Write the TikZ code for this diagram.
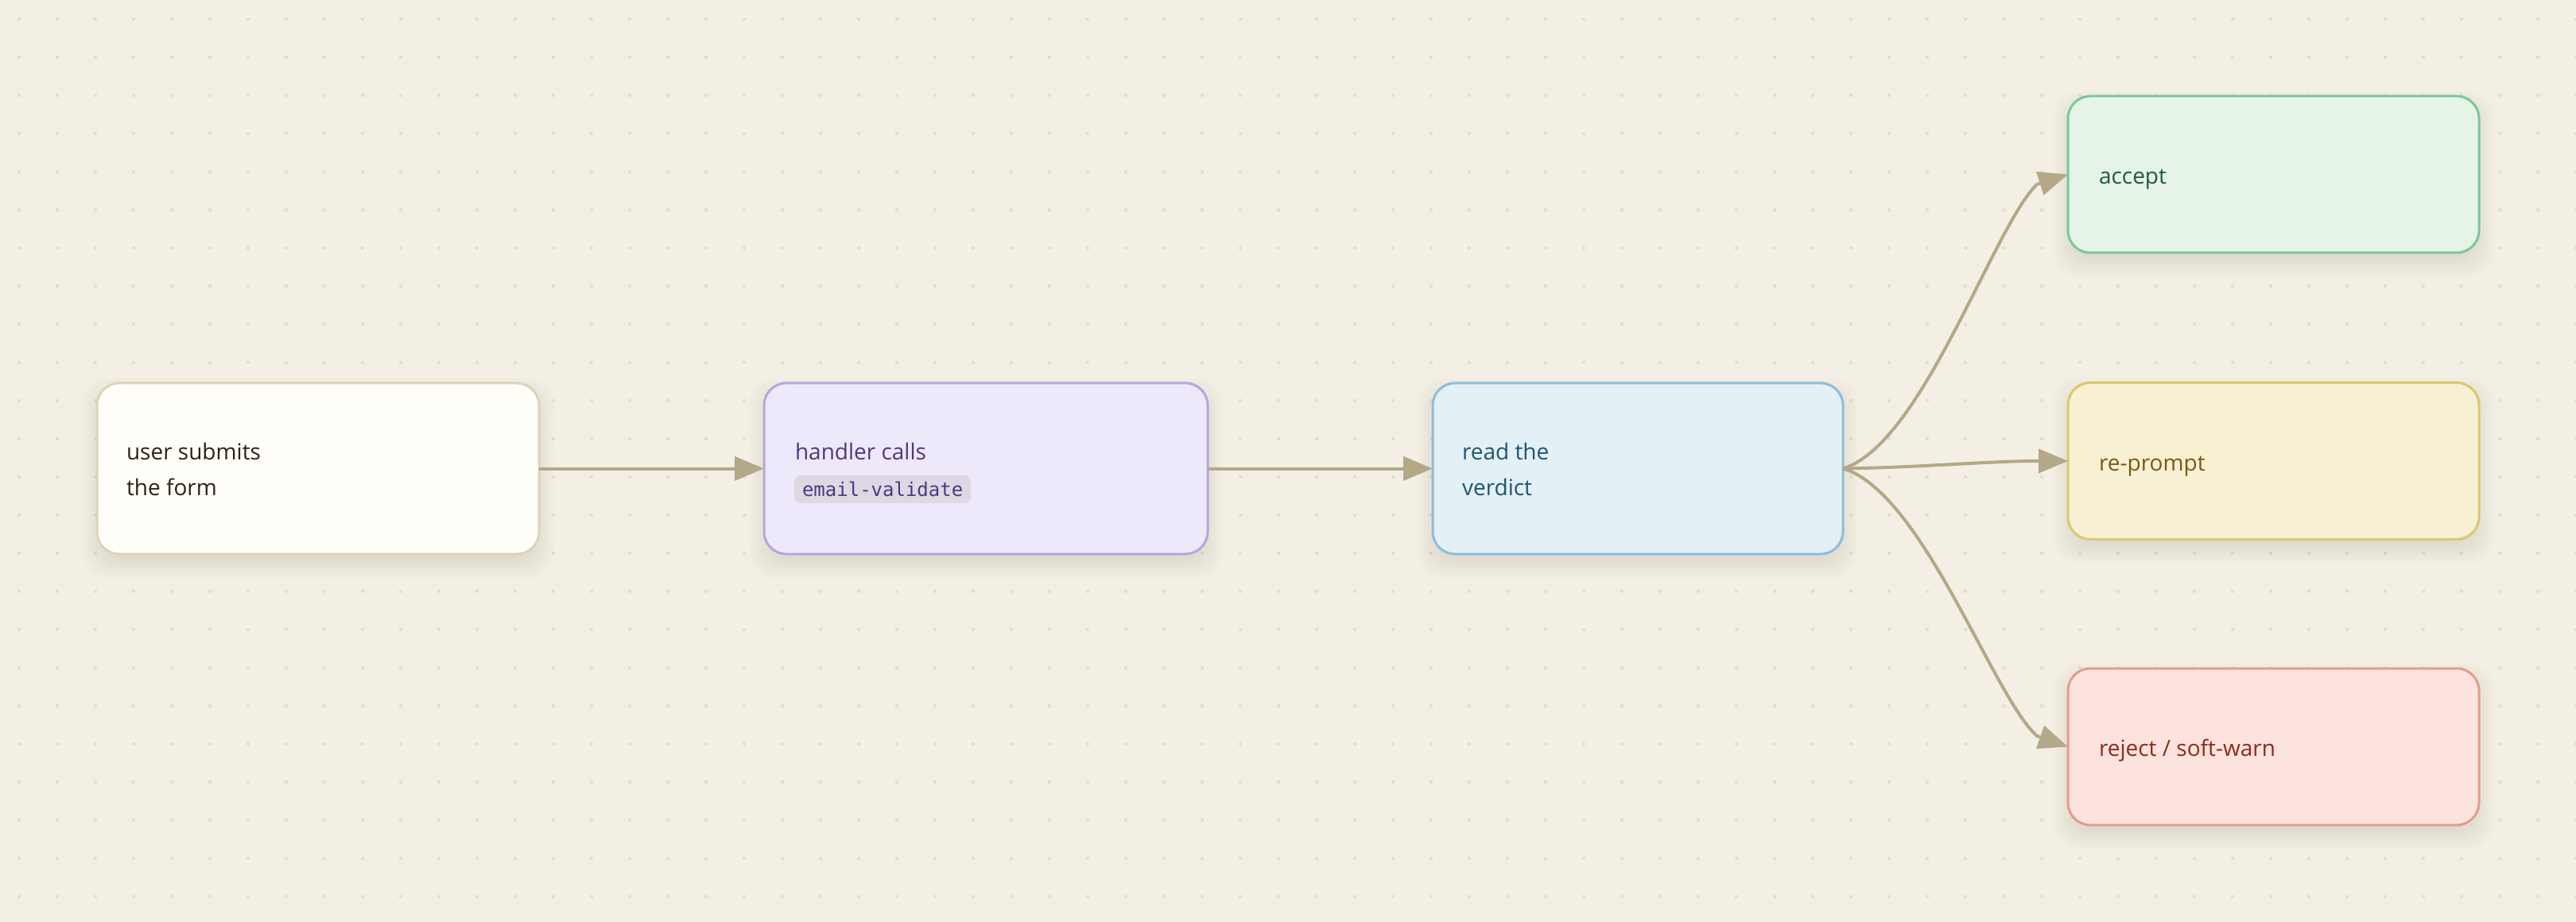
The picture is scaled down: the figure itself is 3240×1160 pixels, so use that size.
\documentclass[tikz,border=0pt]{standalone}
\usepackage{fontspec}
\setmainfont{Open Sans}
\setmonofont{DejaVu Sans Mono}
\usetikzlibrary{arrows.meta,backgrounds}

\definecolor{bgc}{HTML}{F3EFE5}
\definecolor{dotc}{HTML}{E3DDCF}
\definecolor{shadowc}{HTML}{7E6C44}
\definecolor{edgec}{HTML}{B3A887}
\definecolor{fillA}{HTML}{FFFDF7}
\definecolor{lineA}{HTML}{DDD3BC}
\definecolor{textA}{HTML}{2A2418}
\definecolor{fillB}{HTML}{EEE9FA}
\definecolor{lineB}{HTML}{B4A6DE}
\definecolor{textB}{HTML}{4A3A80}
\definecolor{chipbg}{HTML}{DED8E4}
\definecolor{fillC}{HTML}{E3F0F5}
\definecolor{lineC}{HTML}{8DBDD8}
\definecolor{textC}{HTML}{1D5670}
\definecolor{fillG}{HTML}{E6F4E8}
\definecolor{lineG}{HTML}{7DC69A}
\definecolor{textG}{HTML}{1E5C3C}
\definecolor{fillY}{HTML}{F8F0D3}
\definecolor{lineY}{HTML}{DCC76E}
\definecolor{textY}{HTML}{7A5A12}
\definecolor{fillR}{HTML}{FCE3DD}
\definecolor{lineR}{HTML}{E69B8C}
\definecolor{textR}{HTML}{8F2A1E}

\tikzset{
  box/.style={rectangle, rounded corners=14pt, line width=1.5pt, outer sep=0pt, inner sep=0pt},
  bigbox/.style={box, minimum width=#1, minimum height=107.5pt},
  sidebox/.style={box, minimum width=258.5pt, minimum height=98.5pt},
  lbl/.style={anchor=base west, inner sep=0pt, outer sep=0pt, font=\fontsize{14}{22.4}\selectfont},
  chip/.style={anchor=base west, fill=chipbg, rounded corners=4pt, inner xsep=5pt, inner ysep=0pt,
    text height=13pt, text depth=4.5pt, outer sep=0pt, font=\fontsize{12}{14}\selectfont\ttfamily},
  flow/.style={draw=edgec, line width=2pt, line join=round, -{Triangle[length=18.5pt,width=15pt]}}
}

\begin{document}
\begin{tikzpicture}[x=0.5pt,y=-0.5pt]
\useasboundingbox (0,0) rectangle (3240,1160);

% nodes
\node[bigbox=278pt, fill=fillA, draw=lineA] (n1) at (400,589.5) {};
\node[bigbox=279pt, fill=fillB, draw=lineB] (n2) at (1240,589.5) {};
\node[bigbox=258pt, fill=fillC, draw=lineC] (n3) at (2060,589.5) {};
\node[sidebox, fill=fillG, draw=lineG] (acc) at (2859.5,219.5) {};
\node[sidebox, fill=fillY, draw=lineY] (rep) at (2859.5,580) {};
\node[sidebox, fill=fillR, draw=lineR] (rej) at (2859.5,939.5) {};

% texts
\node[lbl, text=textA] (t1a) at (159,578) {user submits};
\node[lbl, text=textA] (t1b) at (159,623) {the form};
\node[lbl, text=textB] (t2a) at (1000,578) {handler calls};
\node[chip, text=textB] (chip) at (999,624) {email-validate};
\node[lbl, text=textC] (t3a) at (1839,578) {read the};
\node[lbl, text=textC] (t3b) at (1839,623) {verdict};
\node[lbl, text=textG] (tacc) at (2640,232) {accept};
\node[lbl, text=textY] (trep) at (2640,592) {re-prompt};
\node[lbl, text=textR] (trej) at (2640,951) {reject / soft-warn};

% connectors
\coordinate (ca) at (2562,232);
\coordinate (cr) at (2562,926);
\draw[flow] (n1.east) -- (n2.west);
\draw[flow] (n2.east) -- (n3.west);
\draw[flow] (n3.east) .. controls (2418,559) and (2507,285) .. (ca) -- (acc.west);
\draw[flow] (n3.east) .. controls (2420,588) and (2500,580) .. (rep.west);
\draw[flow] (n3.east) .. controls (2418,619) and (2507,877) .. (cr) -- (rej.west);

% background, dot grid, shadows
\begin{scope}[on background layer]
  \fill[bgc] (0,0) rectangle (3240,1160);
  \foreach \i in {0,...,67} {
    \foreach \j in {0,...,23} {
      \fill[dotc] (24+48*\i, 24+48*\j) circle[radius=1.1pt];
    }
  }
  \foreach \nd in {n1,n2,n3,acc,rep,rej} {
    \foreach \s in {1,...,8} {
      \fill[shadowc, opacity=0.02, rounded corners=15pt]
        ([xshift={-(2*\s-7)*1pt}, yshift={-6pt-(2*\s-7)*1pt}]\nd.south west) rectangle
        ([xshift={(2*\s-7)*1pt}, yshift={-6pt+(2*\s-7)*1pt}]\nd.north east);
    }
  }
\end{scope}
\end{tikzpicture}
\end{document}
